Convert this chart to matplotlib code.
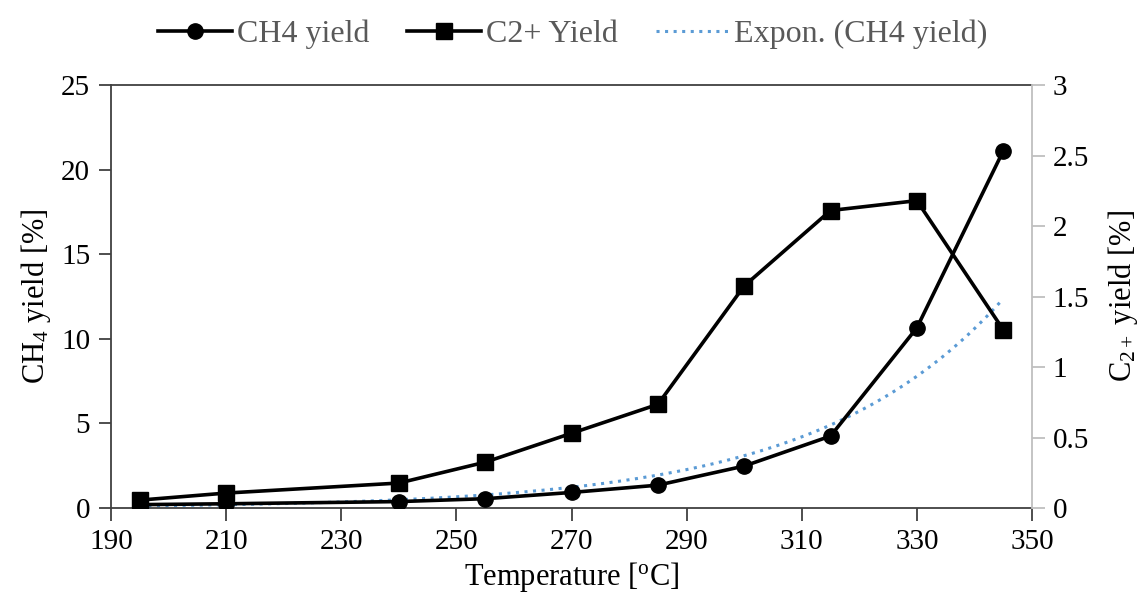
import matplotlib
matplotlib.use('Agg')
import matplotlib.pyplot as plt
import numpy as np

plt.rcParams['font.family'] = 'Liberation Serif'
plt.rcParams['mathtext.fontset'] = 'custom'
plt.rcParams['mathtext.rm'] = 'Liberation Serif'
plt.rcParams['mathtext.it'] = 'Liberation Serif:italic'

# ─── Data ────────────────────────────────────────────────────────────────────
temperature = [195, 210, 240, 255, 270, 285, 300, 315, 330, 345]
ch4_yield = [0.2, 0.25, 0.38, 0.55, 0.92, 1.35, 2.48, 4.25, 10.65, 21.1]
c2_yield = [0.056, 0.106, 0.177, 0.325, 0.53, 0.735, 1.575, 2.11, 2.18, 1.265]

# Excel-style exponential trendline for CH4 yield
b, ln_a = np.polyfit(temperature, np.log(ch4_yield), 1)
t_fit = np.linspace(min(temperature), max(temperature), 200)
ch4_fit = np.exp(ln_a) * np.exp(b * t_fit)

fig = plt.figure(figsize=(11.46, 6.06), dpi=100)
ax = fig.add_axes([0.0969, 0.1617, 0.8036, 0.698])
ax2 = ax.twinx()

DARK = '#404040'
GRAY = '#BFBFBF'

l1, = ax.plot(temperature, ch4_yield, color='black', lw=2.6, marker='o',
              ms=11, label='CH4 yield', zorder=3)
l3, = ax.plot(t_fit, ch4_fit, color='#5B9BD5', lw=2.2, ls=(0, (1, 1.8)),
              label='Expon. (CH4 yield)', zorder=2)
l2, = ax2.plot(temperature, c2_yield, color='black', lw=2.6, marker='s',
               ms=11, label='C2+ Yield', zorder=3)

ax.set_xlim(190, 350)
ax.set_ylim(0, 25)
ax2.set_ylim(0, 3)
ax.set_xticks(range(190, 351, 20))
ax.set_yticks(range(0, 26, 5))
ax2.set_yticks([0, 0.5, 1, 1.5, 2, 2.5, 3])
ax2.set_yticklabels(['0', '0.5', '1', '1.5', '2', '2.5', '3'])

for s in ['left', 'bottom', 'top']:
    ax.spines[s].set_color(DARK)
    ax.spines[s].set_linewidth(1.3)
ax.spines['right'].set_visible(False)
for s in ['left', 'bottom', 'top']:
    ax2.spines[s].set_visible(False)
ax2.spines['right'].set_color(GRAY)
ax2.spines['right'].set_linewidth(1.3)

ax.tick_params(axis='both', direction='out', length=9, width=1.3,
               color=DARK, labelsize=21, pad=6)
ax2.tick_params(axis='y', direction='out', length=9, width=1.3,
                color=GRAY, labelsize=21, pad=6)

ax.set_xlabel('Temperature [$^{\\mathrm{o}}$C]', fontsize=22, labelpad=4)
ax.set_ylabel('CH$_4$ yield [%]', fontsize=22, labelpad=6)
ax2.set_ylabel('C$_{2+}$ yield [%]', fontsize=22, labelpad=12)

leg = fig.legend(handles=[l1, l2, l3], loc='upper center',
                 bbox_to_anchor=(0.5, 1.015), ncol=3, frameon=False,
                 fontsize=23, handlelength=2.3, columnspacing=1.2,
                 handletextpad=0.15)
for t in leg.get_texts():
    t.set_color('#595959')

fig.savefig('out.png', dpi=100, facecolor='white')
